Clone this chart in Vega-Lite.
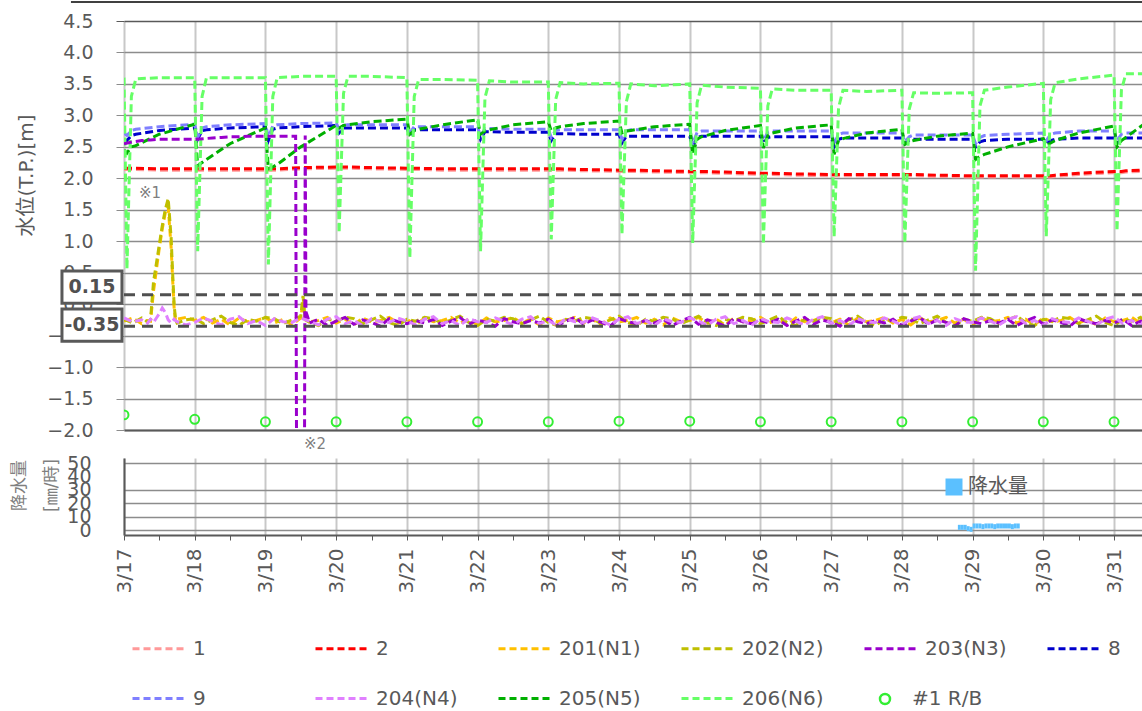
{
"$schema":"https://vega.github.io/schema/vega-lite/v6.json",
"background":"white",
"padding":{"left":10,"top":0,"right":0,"bottom":0},
"spacing":28,
"bounds":"flush",
"config":{"view":{"stroke":null},
"axis":{"labelFont":"DejaVu Sans","titleFont":"DejaVu Sans, Noto Sans CJK JP","labelColor":"#595959","titleColor":"#595959","titleFontWeight":"normal"},
"legend":{"labelFont":"DejaVu Sans, Noto Sans CJK JP","labelColor":"#595959","padding":0},
"text":{"font":"DejaVu Sans, Noto Sans CJK JP"}},
"resolve":{"scale":{"color":"independent"},"legend":{"color":"independent"}},
"datasets":{
"smooth":[
{"x":0,"p":2.14,"r":2.16,"e":2.62,"n":2.72,"g":2.45,"h":3.6},
{"x":1,"p":2.14,"r":2.16,"e":2.6,"n":2.68,"g":2.4,"h":0.56},
{"x":2.5,"p":2.14,"r":2.16,"e":2.68,"n":2.76,"g":2.5,"h":3.3},
{"x":4,"p":2.14,"r":2.16,"e":2.7,"n":2.78,"g":2.52,"h":3.58},
{"x":12,"p":2.13,"r":2.15,"e":2.76,"n":2.82,"g":2.7,"h":3.6},
{"x":24,"p":2.13,"r":2.15,"e":2.8,"n":2.86,"g":2.86,"h":3.6},
{"x":25,"p":2.13,"r":2.15,"e":2.62,"n":2.65,"g":2.2,"h":0.84},
{"x":26.5,"p":2.13,"r":2.15,"e":2.76,"n":2.8,"g":2.25,"h":3.3},
{"x":28,"p":2.13,"r":2.15,"e":2.77,"n":2.82,"g":2.3,"h":3.6},
{"x":36,"p":2.13,"r":2.15,"e":2.8,"n":2.85,"g":2.55,"h":3.6},
{"x":48,"p":2.13,"r":2.15,"e":2.82,"n":2.87,"g":2.8,"h":3.6},
{"x":49,"p":2.13,"r":2.15,"e":2.6,"n":2.65,"g":2.15,"h":0.63},
{"x":50.5,"p":2.13,"r":2.15,"e":2.78,"n":2.83,"g":2.18,"h":3.3},
{"x":52,"p":2.13,"r":2.15,"e":2.8,"n":2.85,"g":2.22,"h":3.6},
{"x":60,"p":2.15,"r":2.17,"e":2.82,"n":2.87,"g":2.5,"h":3.62},
{"x":72,"p":2.16,"r":2.18,"e":2.84,"n":2.88,"g":2.84,"h":3.62},
{"x":73,"p":2.16,"r":2.18,"e":2.72,"n":2.78,"g":2.8,"h":1.13},
{"x":74.5,"p":2.16,"r":2.18,"e":2.8,"n":2.84,"g":2.84,"h":3.35},
{"x":76,"p":2.16,"r":2.18,"e":2.8,"n":2.85,"g":2.85,"h":3.62},
{"x":84,"p":2.15,"r":2.17,"e":2.8,"n":2.85,"g":2.9,"h":3.62},
{"x":96,"p":2.14,"r":2.16,"e":2.8,"n":2.85,"g":2.94,"h":3.6},
{"x":97,"p":2.14,"r":2.16,"e":2.68,"n":2.72,"g":2.7,"h":0.73},
{"x":98.5,"p":2.14,"r":2.16,"e":2.77,"n":2.82,"g":2.76,"h":3.3},
{"x":100,"p":2.14,"r":2.16,"e":2.77,"n":2.82,"g":2.78,"h":3.57},
{"x":108,"p":2.13,"r":2.15,"e":2.77,"n":2.82,"g":2.85,"h":3.57},
{"x":120,"p":2.13,"r":2.15,"e":2.77,"n":2.82,"g":2.93,"h":3.56},
{"x":121,"p":2.13,"r":2.15,"e":2.62,"n":2.66,"g":2.7,"h":0.84},
{"x":122.5,"p":2.13,"r":2.15,"e":2.74,"n":2.79,"g":2.75,"h":3.28},
{"x":124,"p":2.13,"r":2.15,"e":2.74,"n":2.79,"g":2.77,"h":3.55},
{"x":132,"p":2.13,"r":2.15,"e":2.73,"n":2.78,"g":2.85,"h":3.53},
{"x":144,"p":2.13,"r":2.15,"e":2.73,"n":2.78,"g":2.9,"h":3.53},
{"x":145,"p":2.13,"r":2.15,"e":2.6,"n":2.65,"g":2.75,"h":1.03},
{"x":146.5,"p":2.13,"r":2.15,"e":2.71,"n":2.76,"g":2.8,"h":3.25},
{"x":148,"p":2.13,"r":2.15,"e":2.71,"n":2.77,"g":2.82,"h":3.52},
{"x":156,"p":2.12,"r":2.14,"e":2.7,"n":2.77,"g":2.87,"h":3.5},
{"x":168,"p":2.11,"r":2.13,"e":2.7,"n":2.77,"g":2.91,"h":3.51},
{"x":169,"p":2.11,"r":2.13,"e":2.56,"n":2.62,"g":2.72,"h":1.11},
{"x":170.5,"p":2.11,"r":2.13,"e":2.67,"n":2.75,"g":2.75,"h":3.22},
{"x":172,"p":2.11,"r":2.13,"e":2.67,"n":2.77,"g":2.76,"h":3.5},
{"x":180,"p":2.1,"r":2.12,"e":2.67,"n":2.77,"g":2.82,"h":3.47},
{"x":192,"p":2.09,"r":2.11,"e":2.67,"n":2.77,"g":2.86,"h":3.5},
{"x":193,"p":2.09,"r":2.11,"e":2.5,"n":2.55,"g":2.38,"h":0.97},
{"x":194.5,"p":2.09,"r":2.11,"e":2.65,"n":2.73,"g":2.62,"h":3.2},
{"x":196,"p":2.09,"r":2.11,"e":2.67,"n":2.75,"g":2.66,"h":3.48},
{"x":204,"p":2.08,"r":2.1,"e":2.67,"n":2.75,"g":2.76,"h":3.45},
{"x":216,"p":2.06,"r":2.08,"e":2.67,"n":2.75,"g":2.84,"h":3.43},
{"x":217,"p":2.06,"r":2.08,"e":2.55,"n":2.6,"g":2.48,"h":0.95},
{"x":218.5,"p":2.06,"r":2.08,"e":2.65,"n":2.73,"g":2.68,"h":3.15},
{"x":220,"p":2.06,"r":2.08,"e":2.66,"n":2.75,"g":2.72,"h":3.42},
{"x":228,"p":2.05,"r":2.07,"e":2.66,"n":2.75,"g":2.8,"h":3.4},
{"x":240,"p":2.04,"r":2.06,"e":2.66,"n":2.75,"g":2.85,"h":3.4},
{"x":241,"p":2.04,"r":2.06,"e":2.5,"n":2.55,"g":2.38,"h":1.07},
{"x":242.5,"p":2.04,"r":2.06,"e":2.62,"n":2.7,"g":2.6,"h":3.12},
{"x":244,"p":2.04,"r":2.06,"e":2.64,"n":2.72,"g":2.63,"h":3.4},
{"x":252,"p":2.04,"r":2.06,"e":2.64,"n":2.72,"g":2.72,"h":3.38},
{"x":264,"p":2.04,"r":2.06,"e":2.64,"n":2.72,"g":2.78,"h":3.4},
{"x":265,"p":2.04,"r":2.06,"e":2.55,"n":2.58,"g":2.54,"h":0.97},
{"x":266.5,"p":2.04,"r":2.06,"e":2.6,"n":2.66,"g":2.58,"h":3.1},
{"x":268,"p":2.04,"r":2.06,"e":2.62,"n":2.69,"g":2.6,"h":3.36},
{"x":276,"p":2.03,"r":2.05,"e":2.62,"n":2.69,"g":2.67,"h":3.35},
{"x":288,"p":2.02,"r":2.04,"e":2.62,"n":2.69,"g":2.72,"h":3.36},
{"x":289,"p":2.02,"r":2.04,"e":2.5,"n":2.55,"g":2.3,"h":0.53},
{"x":290.5,"p":2.02,"r":2.04,"e":2.58,"n":2.65,"g":2.35,"h":3.15},
{"x":292,"p":2.02,"r":2.04,"e":2.6,"n":2.68,"g":2.38,"h":3.4},
{"x":300,"p":2.02,"r":2.04,"e":2.62,"n":2.7,"g":2.5,"h":3.45},
{"x":312,"p":2.02,"r":2.04,"e":2.62,"n":2.72,"g":2.63,"h":3.51},
{"x":313,"p":2.02,"r":2.04,"e":2.55,"n":2.6,"g":2.52,"h":1.08},
{"x":314.5,"p":2.02,"r":2.04,"e":2.6,"n":2.7,"g":2.56,"h":3.25},
{"x":316,"p":2.03,"r":2.05,"e":2.62,"n":2.72,"g":2.6,"h":3.52},
{"x":324,"p":2.06,"r":2.08,"e":2.64,"n":2.75,"g":2.72,"h":3.58},
{"x":336,"p":2.09,"r":2.11,"e":2.64,"n":2.75,"g":2.83,"h":3.64},
{"x":337,"p":2.09,"r":2.11,"e":2.55,"n":2.6,"g":2.5,"h":1.16},
{"x":338.5,"p":2.09,"r":2.11,"e":2.62,"n":2.7,"g":2.6,"h":3.4},
{"x":340,"p":2.1,"r":2.12,"e":2.64,"n":2.72,"g":2.65,"h":3.66},
{"x":345.83,"p":2.11,"r":2.13,"e":2.64,"n":2.72,"g":2.85,"h":3.66}
],
"noise":[
{"x":0,"a":-0.27,"b":-0.24,"c":2.55,"d":-0.22},
{"x":3,"a":-0.22,"b":-0.3,"c":2.58,"d":-0.28},
{"x":6,"a":-0.31,"b":-0.22,"c":2.6,"d":-0.25},
{"x":8,"a":-0.26,"b":-0.28,"d":-0.3},
{"x":9,"a":-0.27,"b":-0.25,"c":2.61,"d":-0.24},
{"x":10,"a":0.2,"b":0.35,"d":-0.29},
{"x":11,"a":0.55,"b":0.65,"d":-0.22},
{"x":12,"a":0.9,"b":0.95,"c":2.62,"d":-0.15},
{"x":13,"a":1.2,"b":1.25,"d":-0.06},
{"x":14,"a":1.45,"b":1.5,"d":-0.13},
{"x":15,"a":1.55,"b":1.68,"c":2.62,"d":-0.25},
{"x":16,"a":0.9,"b":1.05,"d":-0.3},
{"x":16.5,"a":0.4,"b":0.5},
{"x":17,"a":-0.05,"b":0.0,"d":-0.24},
{"x":17.5,"a":-0.27,"b":-0.25},
{"x":18,"a":-0.24,"b":-0.3,"c":2.62,"d":-0.28},
{"x":21,"a":-0.21,"b":-0.25,"c":2.62,"d":-0.33},
{"x":24,"a":-0.26,"b":-0.23,"c":2.62,"d":-0.29},
{"x":27,"a":-0.21,"b":-0.31,"c":2.63,"d":-0.22},
{"x":30,"a":-0.3,"b":-0.25,"c":2.64,"d":-0.27},
{"x":33,"a":-0.24,"b":-0.19,"c":2.65,"d":-0.33},
{"x":36,"a":-0.33,"b":-0.29,"c":2.66,"d":-0.24},
{"x":39,"a":-0.22,"b":-0.34,"c":2.66,"d":-0.2},
{"x":42,"a":-0.28,"b":-0.24,"c":2.67,"d":-0.31},
{"x":45,"a":-0.26,"b":-0.27,"c":2.67,"d":-0.26},
{"x":48,"a":-0.21,"b":-0.21,"c":2.67,"d":-0.34},
{"x":51,"a":-0.3,"b":-0.23,"c":2.67,"d":-0.23},
{"x":54,"a":-0.24,"b":-0.31,"c":2.67,"d":-0.28},
{"x":57,"a":-0.33,"b":-0.25,"c":2.67,"d":-0.29},
{"x":58.25,"c":2.67},
{"x":58.58,"c":-2.6},
{"x":60,"a":-0.22,"b":-0.19,"d":-0.22},
{"x":60.75,"a":0.05,"b":0.13},
{"x":61.25,"c":-2.6},
{"x":61.5,"a":-0.22,"b":-0.25,"c":2.68},
{"x":61.75,"c":-0.12},
{"x":63,"a":-0.28,"b":-0.29,"c":-0.3,"d":-0.27},
{"x":66,"a":-0.26,"b":-0.34,"c":-0.24,"d":-0.33},
{"x":69,"a":-0.21,"b":-0.24,"c":-0.34,"d":-0.24},
{"x":72,"a":-0.3,"b":-0.27,"c":-0.27,"d":-0.2},
{"x":75,"a":-0.24,"b":-0.21,"c":-0.21,"d":-0.31},
{"x":78,"a":-0.33,"b":-0.23,"c":-0.32,"d":-0.26},
{"x":81,"a":-0.22,"b":-0.31,"c":-0.25,"d":-0.34},
{"x":84,"a":-0.28,"b":-0.25,"c":-0.29,"d":-0.23},
{"x":87,"a":-0.26,"b":-0.19,"c":-0.35,"d":-0.28},
{"x":90,"a":-0.21,"b":-0.29,"c":-0.23,"d":-0.29},
{"x":93,"a":-0.3,"b":-0.34,"c":-0.28,"d":-0.22},
{"x":96,"a":-0.24,"b":-0.24,"c":-0.31,"d":-0.27},
{"x":99,"a":-0.33,"b":-0.27,"c":-0.26,"d":-0.33},
{"x":102,"a":-0.22,"b":-0.21,"c":-0.3,"d":-0.24},
{"x":105,"a":-0.28,"b":-0.23,"c":-0.24,"d":-0.2},
{"x":108,"a":-0.26,"b":-0.31,"c":-0.34,"d":-0.31},
{"x":111,"a":-0.21,"b":-0.25,"c":-0.27,"d":-0.26},
{"x":114,"a":-0.3,"b":-0.19,"c":-0.21,"d":-0.34},
{"x":117,"a":-0.24,"b":-0.29,"c":-0.32,"d":-0.23},
{"x":120,"a":-0.33,"b":-0.34,"c":-0.25,"d":-0.28},
{"x":123,"a":-0.22,"b":-0.24,"c":-0.29,"d":-0.29},
{"x":126,"a":-0.28,"b":-0.27,"c":-0.35,"d":-0.22},
{"x":129,"a":-0.26,"b":-0.21,"c":-0.23,"d":-0.27},
{"x":132,"a":-0.21,"b":-0.23,"c":-0.28,"d":-0.33},
{"x":135,"a":-0.3,"b":-0.31,"c":-0.31,"d":-0.24},
{"x":138,"a":-0.24,"b":-0.25,"c":-0.26,"d":-0.2},
{"x":141,"a":-0.33,"b":-0.19,"c":-0.3,"d":-0.31},
{"x":144,"a":-0.22,"b":-0.29,"c":-0.24,"d":-0.26},
{"x":147,"a":-0.28,"b":-0.34,"c":-0.34,"d":-0.34},
{"x":150,"a":-0.26,"b":-0.24,"c":-0.27,"d":-0.23},
{"x":153,"a":-0.21,"b":-0.27,"c":-0.21,"d":-0.28},
{"x":156,"a":-0.3,"b":-0.21,"c":-0.32,"d":-0.29},
{"x":159,"a":-0.24,"b":-0.23,"c":-0.25,"d":-0.22},
{"x":162,"a":-0.33,"b":-0.31,"c":-0.29,"d":-0.27},
{"x":165,"a":-0.22,"b":-0.25,"c":-0.35,"d":-0.33},
{"x":168,"a":-0.28,"b":-0.19,"c":-0.23,"d":-0.24},
{"x":171,"a":-0.26,"b":-0.29,"c":-0.28,"d":-0.2},
{"x":174,"a":-0.21,"b":-0.34,"c":-0.31,"d":-0.31},
{"x":177,"a":-0.3,"b":-0.24,"c":-0.26,"d":-0.26},
{"x":180,"a":-0.24,"b":-0.27,"c":-0.3,"d":-0.34},
{"x":183,"a":-0.33,"b":-0.21,"c":-0.24,"d":-0.23},
{"x":186,"a":-0.22,"b":-0.23,"c":-0.34,"d":-0.28},
{"x":189,"a":-0.28,"b":-0.31,"c":-0.27,"d":-0.29},
{"x":192,"a":-0.26,"b":-0.25,"c":-0.21,"d":-0.22},
{"x":195,"a":-0.21,"b":-0.19,"c":-0.32,"d":-0.27},
{"x":198,"a":-0.3,"b":-0.29,"c":-0.25,"d":-0.33},
{"x":201,"a":-0.24,"b":-0.34,"c":-0.29,"d":-0.24},
{"x":204,"a":-0.33,"b":-0.24,"c":-0.35,"d":-0.2},
{"x":207,"a":-0.22,"b":-0.27,"c":-0.23,"d":-0.31},
{"x":210,"a":-0.28,"b":-0.21,"c":-0.28,"d":-0.26},
{"x":213,"a":-0.26,"b":-0.23,"c":-0.31,"d":-0.34},
{"x":216,"a":-0.21,"b":-0.31,"c":-0.26,"d":-0.23},
{"x":219,"a":-0.3,"b":-0.25,"c":-0.3,"d":-0.28},
{"x":222,"a":-0.24,"b":-0.19,"c":-0.24,"d":-0.29},
{"x":225,"a":-0.33,"b":-0.29,"c":-0.34,"d":-0.22},
{"x":228,"a":-0.22,"b":-0.34,"c":-0.27,"d":-0.27},
{"x":231,"a":-0.28,"b":-0.24,"c":-0.21,"d":-0.33},
{"x":234,"a":-0.26,"b":-0.27,"c":-0.32,"d":-0.24},
{"x":237,"a":-0.21,"b":-0.21,"c":-0.25,"d":-0.2},
{"x":240,"a":-0.3,"b":-0.23,"c":-0.29,"d":-0.31},
{"x":243,"a":-0.24,"b":-0.31,"c":-0.35,"d":-0.26},
{"x":246,"a":-0.33,"b":-0.25,"c":-0.23,"d":-0.34},
{"x":249,"a":-0.22,"b":-0.19,"c":-0.28,"d":-0.23},
{"x":252,"a":-0.28,"b":-0.29,"c":-0.31,"d":-0.28},
{"x":255,"a":-0.26,"b":-0.34,"c":-0.26,"d":-0.29},
{"x":258,"a":-0.21,"b":-0.24,"c":-0.3,"d":-0.22},
{"x":261,"a":-0.3,"b":-0.27,"c":-0.24,"d":-0.27},
{"x":264,"a":-0.24,"b":-0.21,"c":-0.34,"d":-0.33},
{"x":267,"a":-0.33,"b":-0.23,"c":-0.27,"d":-0.24},
{"x":270,"a":-0.22,"b":-0.31,"c":-0.21,"d":-0.2},
{"x":273,"a":-0.28,"b":-0.25,"c":-0.32,"d":-0.31},
{"x":276,"a":-0.26,"b":-0.19,"c":-0.25,"d":-0.26},
{"x":279,"a":-0.21,"b":-0.29,"c":-0.29,"d":-0.34},
{"x":282,"a":-0.3,"b":-0.34,"c":-0.35,"d":-0.23},
{"x":285,"a":-0.24,"b":-0.24,"c":-0.23,"d":-0.28},
{"x":288,"a":-0.33,"b":-0.27,"c":-0.28,"d":-0.29},
{"x":291,"a":-0.22,"b":-0.21,"c":-0.31,"d":-0.22},
{"x":294,"a":-0.28,"b":-0.23,"c":-0.26,"d":-0.27},
{"x":297,"a":-0.26,"b":-0.31,"c":-0.3,"d":-0.33},
{"x":300,"a":-0.21,"b":-0.25,"c":-0.24,"d":-0.24},
{"x":303,"a":-0.3,"b":-0.19,"c":-0.34,"d":-0.2},
{"x":306,"a":-0.24,"b":-0.29,"c":-0.27,"d":-0.31},
{"x":309,"a":-0.33,"b":-0.34,"c":-0.21,"d":-0.26},
{"x":312,"a":-0.22,"b":-0.24,"c":-0.32,"d":-0.34},
{"x":315,"a":-0.28,"b":-0.27,"c":-0.25,"d":-0.23},
{"x":318,"a":-0.26,"b":-0.21,"c":-0.29,"d":-0.28},
{"x":321,"a":-0.21,"b":-0.23,"c":-0.35,"d":-0.29},
{"x":324,"a":-0.3,"b":-0.31,"c":-0.23,"d":-0.22},
{"x":327,"a":-0.24,"b":-0.25,"c":-0.28,"d":-0.27},
{"x":330,"a":-0.33,"b":-0.19,"c":-0.31,"d":-0.33},
{"x":333,"a":-0.22,"b":-0.29,"c":-0.26,"d":-0.24},
{"x":336,"a":-0.28,"b":-0.34,"c":-0.3,"d":-0.2},
{"x":339,"a":-0.26,"b":-0.24,"c":-0.24,"d":-0.31},
{"x":342,"a":-0.21,"b":-0.27,"c":-0.34,"d":-0.26},
{"x":345,"a":-0.3,"b":-0.21,"c":-0.27,"d":-0.34},
{"x":345.83,"a":-0.25,"b":-0.26,"c":-0.3,"d":-0.28}
],
"rb":[
{"s":"#1 R/B","x":0,"v":-1.76},{"s":"#1 R/B","x":24,"v":-1.83},{"s":"#1 R/B","x":48,"v":-1.87},
{"s":"#1 R/B","x":72,"v":-1.87},{"s":"#1 R/B","x":96,"v":-1.87},{"s":"#1 R/B","x":120,"v":-1.87},
{"s":"#1 R/B","x":144,"v":-1.87},{"s":"#1 R/B","x":168,"v":-1.86},{"s":"#1 R/B","x":192,"v":-1.86},
{"s":"#1 R/B","x":216,"v":-1.87},{"s":"#1 R/B","x":240,"v":-1.87},{"s":"#1 R/B","x":264,"v":-1.87},
{"s":"#1 R/B","x":288,"v":-1.87},{"s":"#1 R/B","x":312,"v":-1.87},{"s":"#1 R/B","x":336,"v":-1.87}
]
},
"vconcat":[
{
"width":1019,"height":409,
"encoding":{
"x":{"field":"x","type":"quantitative","scale":{"domain":[0,345.83],"nice":false,"zero":false},
"axis":{"values":[0,24,48,72,96,120,144,168,192,216,240,264,288,312,336],"labels":false,"ticks":false,"domain":true,"domainColor":"#595959","domainWidth":2,"grid":true,"gridColor":"#C8C8C8","gridWidth":2,"title":null}},
"y":{"field":"v","type":"quantitative","scale":{"domain":[-2,4.5],"nice":false,"zero":false},
"axis":{"values":[-2,-1.5,-1,-0.5,0,0.5,1,1.5,2,2.5,3,3.5,4,4.5],"format":".1f","labelFontSize":19,"labelPadding":23,"labelOverlap":false,"tickSize":8,
"tickColor":{"condition":{"test":"datum.value == 4.5","value":"#595959"},"value":"#8C8C8C"},
"gridColor":{"condition":{"test":"datum.value == 4.5","value":"#595959"},"value":"#8C8C8C"},
"gridWidth":1.5,"domain":false,
"title":"水位(T.P.)[m]","titleFontSize":20,"titleAngle":-90,"titleX":-108,"titleY":154,"titleAlign":"center","titleBaseline":"top"}}
},
"layer":[
{
"data":{"name":"smooth"},
"transform":[
{"fold":["p","r","e","n","g","h"],"as":["k","v"]},
{"lookup":"k","from":{"data":{"values":[{"k":"p","s":"1"},{"k":"r","s":"2"},{"k":"e","s":"8"},{"k":"n","s":"9"},{"k":"g","s":"205(N5)"},{"k":"h","s":"206(N6)"}]},"key":"k","fields":["s"]}},
{"filter":"isValid(datum.v)"}
],
"mark":{"type":"line","strokeWidth":3,"strokeDash":[8,4],"clip":true},
"encoding":{
"color":{"field":"s","type":"nominal",
"scale":{"domain":["1","2","201(N1)","202(N2)","203(N3)","8","9","204(N4)","205(N5)","206(N6)"],
"range":["#FF9999","#FF0000","#FFC000","#BFBF00","#9900CC","#0000CC","#7F7FFF","#E080FF","#00B000","#66FF66"]},
"legend":{"orient":"none","direction":"horizontal","legendX":7,"legendY":599,"title":null,"columns":6,"gridAlign":"all","columnPadding":34,"rowPadding":11,
"symbolType":"stroke","symbolSize":2916,"symbolStrokeWidth":3,"symbolDash":[7,4],"labelFontSize":20,"labelOffset":5,"labelColor":"#595959"}}
}
},
{
"data":{"name":"noise"},
"transform":[
{"fold":["a","b","c","d"],"as":["k","v"]},
{"lookup":"k","from":{"data":{"values":[{"k":"a","s":"201(N1)"},{"k":"b","s":"202(N2)"},{"k":"c","s":"203(N3)"},{"k":"d","s":"204(N4)"}]},"key":"k","fields":["s"]}},
{"filter":"isValid(datum.v)"}
],
"mark":{"type":"line","strokeWidth":3,"strokeDash":[8,4],"clip":true},
"encoding":{"color":{"field":"s","type":"nominal"}}
},
{
"data":{"name":"rb"},
"mark":{"type":"point","filled":false,"size":80,"strokeWidth":2,"opacity":1,"color":"#33EE33","clip":true},
"encoding":{
"shape":{"field":"s","type":"nominal","scale":{"domain":["#1 R/B"],"range":["circle"]},
"legend":{"orient":"none","legendX":751,"legendY":668,"title":null,"symbolSize":100,"symbolStrokeWidth":2.5,"symbolStrokeColor":"#33EE33","symbolFillColor":"transparent","labelFontSize":20,"labelOffset":17,"labelColor":"#595959"}}
}
},
{
"data":{"values":[{"x":0,"x2":345.83,"v":0.15},{"x":0,"x2":345.83,"v":-0.35}]},
"mark":{"type":"rule","color":"#505050","strokeWidth":3,"strokeDash":[11,7]},
"encoding":{"x2":{"field":"x2"}}
},
{
"data":{"values":[{"x":-10.87,"v":0.271,"lab":"0.15"},{"x":-10.87,"v":-0.333,"lab":"-0.35"}]},
"mark":{"type":"point","shape":"M-1,-0.54L1,-0.54L1,0.54L-1,0.54Z","size":3600,"filled":true,"fill":"white","stroke":"#595959","strokeWidth":3,"opacity":1,"clip":false}
},
{
"data":{"values":[{"x":-10.87,"v":0.271,"lab":"0.15"},{"x":-10.87,"v":-0.333,"lab":"-0.35"}]},
"mark":{"type":"text","fontSize":19,"fontWeight":"bold","color":"#505050","clip":false,"font":"DejaVu Sans"},
"encoding":{"text":{"field":"lab"}}
},
{
"data":{"values":[{"x":8.83,"v":1.77,"lab":"※1"},{"x":64.83,"v":-2.22,"lab":"※2"}]},
"mark":{"type":"text","fontSize":15,"color":"#7F7F7F","clip":false},
"encoding":{"text":{"field":"lab"}}
},
{
"data":{"values":[{"x":-18,"x2":345.83,"v":4.802}]},
"mark":{"type":"rule","color":"#404040","strokeWidth":2,"clip":false},
"encoding":{"x2":{"field":"x2"}}
}
]
},
{
"width":1019,"height":77,
"data":{"values":[
{"k":"降水量","x":283,"x2":284,"v":2},{"k":"降水量","x":284,"x2":285,"v":2},{"k":"降水量","x":285,"x2":286,"v":2},
{"k":"降水量","x":286,"x2":287,"v":1},{"k":"降水量","x":287,"x2":288,"v":0.5},{"k":"降水量","x":288,"x2":289,"v":3},
{"k":"降水量","x":289,"x2":290,"v":3},{"k":"降水量","x":290,"x2":291,"v":3},{"k":"降水量","x":291,"x2":292,"v":2.5},
{"k":"降水量","x":292,"x2":293,"v":3},{"k":"降水量","x":293,"x2":294,"v":3},{"k":"降水量","x":294,"x2":295,"v":3},
{"k":"降水量","x":295,"x2":296,"v":2.5},{"k":"降水量","x":296,"x2":297,"v":3},{"k":"降水量","x":297,"x2":298,"v":3},
{"k":"降水量","x":298,"x2":299,"v":3},{"k":"降水量","x":299,"x2":300,"v":3},{"k":"降水量","x":300,"x2":301,"v":3},
{"k":"降水量","x":301,"x2":302,"v":2.5},{"k":"降水量","x":302,"x2":303,"v":3},{"k":"降水量","x":303,"x2":304,"v":3}
]},
"mark":{"type":"bar"},
"encoding":{
"x":{"field":"x","type":"quantitative","scale":{"domain":[0,345.83],"nice":false,"zero":false},
"axis":{"values":[0,12,24,36,48,60,72,84,96,108,120,132,144,156,168,180,192,204,216,228,240,252,264,276,288,300,312,324,336],
"labelExpr":"datum.value % 24 == 0 ? '3/' + (17 + datum.value / 24) : ''",
"labelAngle":-90,"labelFontSize":20,"labelPadding":8,"labelFlush":false,"labelOverlap":false,"tickSize":5,"tickColor":"#595959",
"domainColor":"#595959","domainWidth":2,"grid":true,"gridWidth":2,
"gridColor":{"condition":{"test":"datum.value % 24 != 0","value":"transparent"},"value":"#C8C8C8"},"title":null}},
"x2":{"field":"x2"},
"y":{"field":"v","type":"quantitative","scale":{"domain":[0,50],"nice":false},
"axis":{"values":[0,10,20,30,40,50],"labelFontSize":19,"labelPadding":33,"labelOverlap":false,"ticks":false,"domain":true,"domainColor":"#595959","domainWidth":2,
"gridColor":{"condition":{"test":"datum.value == 40","value":"transparent"},"value":"#8C8C8C"},"gridWidth":1.5,
"title":["降水量","[㎜/時]"],"titleFontSize":17,"titleColor":"#7F7F7F","titleAngle":-90,"titleX":-113,"titleY":27,"titleAlign":"center","titleBaseline":"top","titleLineHeight":32}},
"color":{"field":"k","type":"nominal","scale":{"range":["#5BC0FF"]},
"legend":{"orient":"none","legendX":820,"legendY":19,"title":null,"symbolType":"square","symbolSize":289,"symbolStrokeWidth":0,"labelFontSize":20,"labelOffset":4,"labelColor":"#595959"}}
}
}
]
}
